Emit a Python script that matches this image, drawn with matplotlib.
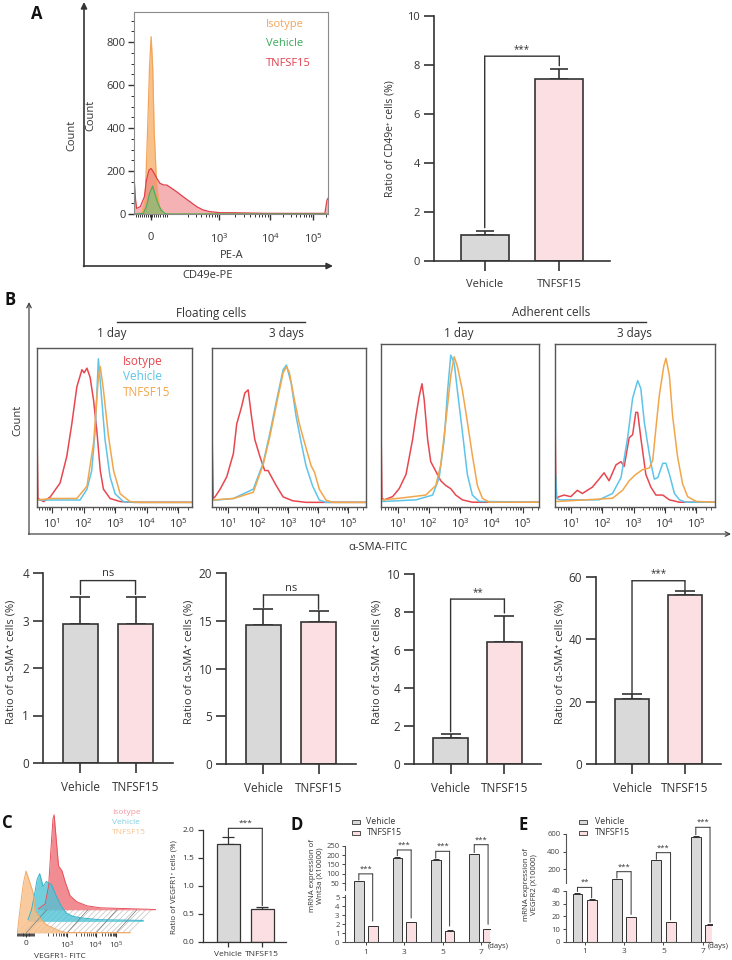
import matplotlib.pyplot as plt
import numpy as np
from matplotlib.patches import Polygon, Rectangle, ConnectionPatch

# ---------------- data ----------------
# panel A histogram (x in display units: 0 -> "0", 1.31 -> 10^3 ...)
a_iso_x = [-0.33, -0.18, -0.115, -0.07, -0.03, 0.0, 0.03, 0.06, 0.105, 0.16, 0.24, 0.30, 3.41]
a_iso_y = [0, 3, 65, 375, 685, 825, 685, 375, 143, 34, 6, 0, 0]
a_veh_x = [-0.33, -0.15, -0.09, -0.03, 0.03, 0.07, 0.13, 0.19, 0.26, 0.32, 3.41]
a_veh_y = [0, 3, 34, 96, 130, 96, 50, 19, 3, 0, 0]
a_tn_x = [-0.33, -0.30, -0.28, -0.21, -0.13, -0.09, -0.04, 0.0, 0.04, 0.11, 0.17, 0.24, 0.30, 0.40,
          0.49, 0.62, 0.75, 0.88, 1.0, 1.13, 1.33, 1.58, 2.22, 2.87, 3.35, 3.39, 3.41]
a_tn_y = [174, 65, 26, 34, 80, 158, 205, 212, 197, 166, 143, 135, 135, 119,
          104, 80, 57, 34, 19, 11, 6, 6, 3, 3, 3, 65, 73]

groups = ['Vehicle', 'TNFSF15']
a_mean = [1.06, 7.44]
a_err = [0.18, 0.40]

# panel B histograms (x = log10 intensity, y = % of max)
b1_iso_x = [0.53, 0.56, 0.74, 0.95, 1.26, 1.47, 1.63, 1.79, 1.95, 2.02, 2.11, 2.21, 2.32, 2.42, 2.53, 2.63, 2.84, 3.16, 3.6, 5.43]
b1_iso_y = [47, 3, 1, 4, 13, 30, 51, 75, 86, 84, 87, 81, 66, 47, 21, 9, 3, 1, 0.5, 0.5]
b1_veh_x = [0.53, 1.0, 1.89, 2.11, 2.26, 2.37, 2.47, 2.58, 2.68, 2.84, 3.0, 3.26, 3.6, 5.43]
b1_veh_y = [2, 2, 2, 9, 21, 47, 93, 66, 41, 17, 6, 1, 0.5, 0.5]
b1_tn_x = [0.53, 1.0, 1.79, 2.11, 2.32, 2.47, 2.53, 2.63, 2.79, 2.95, 3.16, 3.47, 3.8, 5.43]
b1_tn_y = [2, 3, 3, 11, 39, 81, 88, 73, 43, 21, 6, 1, 0.5, 0.5]

b2_iso_x = [0.48, 0.52, 0.58, 0.75, 0.97, 1.19, 1.30, 1.46, 1.57, 1.68, 1.79, 1.90, 2.07, 2.23, 2.34, 2.45, 2.62, 2.84, 3.16, 3.60, 5.59]
b2_iso_y = [47, 3, 4, 9, 17, 32, 51, 62, 71, 73, 56, 41, 30, 21, 21, 17, 11, 4, 1.5, 0.5, 0.5]
b2_veh_x = [0.48, 0.64, 1.19, 1.85, 2.18, 2.40, 2.62, 2.84, 2.95, 3.11, 3.27, 3.44, 3.60, 3.82, 4.04, 4.26, 5.59]
b2_veh_y = [2, 2, 3, 9, 26, 45, 66, 86, 89, 77, 56, 39, 24, 11, 2, 0.5, 0.5]
b2_tn_x = [0.48, 1.2, 1.85, 2.18, 2.40, 2.62, 2.84, 2.95, 3.05, 3.22, 3.38, 3.55, 3.77, 3.88, 4.04, 4.26, 4.48, 5.59]
b2_tn_y = [2, 3, 7, 25, 43, 64, 84, 88, 84, 66, 51, 39, 24, 20, 9, 2, 0.5, 0.5]

b3_iso_x = [0.47, 0.50, 0.57, 0.84, 1.05, 1.27, 1.48, 1.59, 1.69, 1.78, 1.85, 1.96, 2.06, 2.22, 2.38, 2.54, 2.70, 2.86, 3.07, 3.39, 5.52]
b3_iso_y = [51, 3, 2, 4, 9, 18, 40, 55, 67, 75, 65, 40, 26, 20, 14, 11, 9, 5, 2, 0.5, 0.5]
b3_veh_x = [0.47, 0.57, 1.59, 2.12, 2.33, 2.49, 2.60, 2.70, 2.81, 2.91, 3.07, 3.23, 3.39, 3.61, 5.52]
b3_veh_y = [1, 1, 2, 5, 16, 40, 71, 93, 88, 71, 45, 18, 5, 1, 0.5]
b3_tn_x = [0.47, 0.57, 1.05, 1.90, 2.22, 2.38, 2.54, 2.70, 2.81, 2.91, 3.07, 3.23, 3.39, 3.55, 3.71, 3.93, 5.52]
b3_tn_y = [2, 2, 3, 5, 11, 24, 51, 80, 92, 86, 71, 51, 30, 11, 3, 0.5, 0.5]

b4_iso_x = [0.50, 0.53, 0.63, 0.79, 1.0, 1.21, 1.37, 1.69, 1.90, 2.06, 2.22, 2.44, 2.60, 2.70, 2.86, 2.97,
            3.07, 3.13, 3.23, 3.39, 3.55, 3.71, 3.93, 4.14, 4.46, 5.59]
b4_iso_y = [62, 3, 4, 5, 4, 8, 6, 10, 15, 19, 14, 24, 26, 23, 41, 43, 57, 57, 41, 18, 10, 5, 5, 2, 0.5, 0.5]
b4_veh_x = [0.50, 0.52, 0.56, 0.63, 1.90, 2.33, 2.60, 2.81, 2.97, 3.13, 3.23, 3.34, 3.45, 3.55, 3.66, 3.77,
            3.93, 4.03, 4.14, 4.30, 4.46, 4.67, 5.59]
b4_veh_y = [2, 18, 3, 2, 2, 6, 16, 41, 66, 77, 72, 51, 37, 25, 15, 16, 25, 25, 18, 6, 2, 0.5, 0.5]
b4_tn_x = [0.50, 0.63, 2.33, 2.65, 2.86, 3.07, 3.29, 3.50, 3.61, 3.71, 3.82, 3.96, 4.03, 4.14, 4.24, 4.40,
           4.56, 4.72, 4.99, 5.59]
b4_tn_y = [1, 1, 3, 8, 14, 18, 21, 22, 27, 47, 68, 86, 91, 80, 55, 29, 12, 4, 1, 0.5]

b1_mean, b1_err = [2.92, 2.92], [0.58, 0.58]
b2_mean, b2_err = [14.6, 14.9], [1.6, 1.1]
b3_mean, b3_err = [1.38, 6.40], [0.22, 1.40]
b4_mean, b4_err = [21.0, 54.1], [1.3, 1.4]

# panel C waterfall histogram (local x units, height)
c_iso_x = [-0.29, -0.06, 0.06, 0.14, 0.21, 0.25, 0.32, 0.40, 0.52, 0.63, 0.80, 1.03, 1.38, 1.84, 3.74]
c_iso_y = [1, 6, 24, 61, 91, 95, 71, 44, 39, 28, 14, 8, 4, 2, 0.3]
c_veh_x = [-0.29, -0.17, -0.06, 0.02, 0.11, 0.23, 0.34, 0.52, 0.69, 0.86, 1.03, 1.26, 1.61, 2.18, 3.68]
c_veh_y = [1.7, 11.7, 28, 41.7, 47.7, 35, 40, 36.7, 25, 15, 8.3, 5, 3.3, 1.7, 1]
c_tn_x = [-0.30, -0.21, -0.09, 0.0, 0.14, 0.25, 0.31, 0.48, 0.71, 0.94, 1.17, 1.40, 3.59]
c_tn_y = [0, 23, 50, 62, 50, 40, 23, 15, 8, 5, 2, 0.5, 0.5]
c_mean, c_err = [1.745, 0.59], [0.125, 0.03]

# panels D / E
days = ['1', '3', '5', '7']
d_veh = [61, 186, 176, 205]
d_veh_err = [2, 3, 2, 3]
d_tn = [1.78, 2.2, 1.28, 1.45]
d_tn_err = [0.08, 0.07, 0.05, 0.05]
e_veh = [37.2, 90, 300, 565]
e_veh_err = [1.5, 3, 5, 15]
e_tn = [32.8, 19.3, 15.2, 13.3]
e_tn_err = [0.8, 0.5, 0.4, 0.4]

# ---------------- style ----------------
W, H = 732, 960
plt.rcParams['font.family'] = ['Open Sans', 'DejaVu Sans']
plt.rcParams['mathtext.fontset'] = 'custom'
plt.rcParams['mathtext.rm'] = 'Open Sans'
plt.rcParams['mathtext.default'] = 'regular'
plt.rcParams['text.color'] = '#333333'
plt.rcParams['xtick.color'] = '#333333'
plt.rcParams['ytick.color'] = '#333333'
plt.rcParams['hatch.linewidth'] = 0.5

GRAY, PINK, EDGE = '#d9d9d9', '#fcdfe2', '#333333'
RED, CYAN, ORANGE = '#e8474f', '#5ec4ea', '#f2a64a'

fig = plt.figure(figsize=(W / 100, H / 100), dpi=100)


def box(x0, y0, x1, y1):
    return fig.add_axes([x0 / W, 1 - y1 / H, (x1 - x0) / W, (y1 - y0) / H])


ov = fig.add_axes([0, 0, 1, 1], zorder=5)
ov.set_xlim(0, W)
ov.set_ylim(H, 0)
ov.axis('off')


def txt(x, y, s, size=8, **kw):
    ov.text(x, y, s, fontsize=size, ha=kw.pop('ha', 'center'), va=kw.pop('va', 'center'), **kw)


def bracket(xl, xr, yh, axh, yl, axl, yr, axr, label, fs, lw=1.0):
    pts = [(axl, (xl, yl)), (axh, (xl, yh)), (axh, (xr, yh)), (axr, (xr, yr))]
    for (a1, p1), (a2, p2) in zip(pts[:-1], pts[1:]):
        fig.add_artist(ConnectionPatch(p1, p2, coordsA=a1.transData, coordsB=a2.transData,
                                       color=EDGE, lw=lw))
    axh.annotate(label, ((xl + xr) / 2, yh), xytext=(0, 1), textcoords='offset points',
                 ha='center', va='bottom', fontsize=fs, color=EDGE, annotation_clip=False)


def two_bar(rect, means, errs, ylim, yticks, fs, lw, tlen, cap, xlim=(-0.68, 1.68), width=0.64):
    ax = box(*rect)
    pos = np.arange(len(groups))
    ax.bar(pos, means, width, color=[GRAY, PINK], edgecolor=EDGE, linewidth=lw, zorder=2)
    ax.errorbar(pos, means, yerr=[np.zeros(len(pos)), errs], fmt='none', ecolor=EDGE,
                elinewidth=lw, capsize=cap, capthick=lw, zorder=1)
    ax.set_xlim(*xlim)
    ax.set_ylim(*ylim)
    ax.set_yticks(yticks)
    ax.set_xticks(pos, groups)
    for s in ['top', 'right']:
        ax.spines[s].set_visible(False)
    for s in ['left', 'bottom']:
        ax.spines[s].set_linewidth(lw)
        ax.spines[s].set_color(EDGE)
    ax.tick_params(direction='out', length=tlen, width=lw, labelsize=fs, pad=3)
    ax.tick_params(axis='x', pad=tlen * 0.9)
    return ax


# ---------------- panel A ----------------
axA = box(134, 12, 328, 214)
for xs, ys, fc, ec, al in [(a_iso_x, a_iso_y, '#f9bb7d', '#f3a55a', 0.9),
                           (a_tn_x, a_tn_y, '#ee7f84', '#e0404c', 0.6),
                           (a_veh_x, a_veh_y, '#86bf72', '#4fae5c', 0.75)]:
    axA.fill_between(xs, ys, color=fc, alpha=al, lw=0)
    axA.plot(xs, ys, color=ec, lw=0.9)
axA.set_xlim(-0.33, 3.41)
axA.set_ylim(0, 940)
axA.set_yticks([0, 200, 400, 600, 800])
axA.set_yticks(np.arange(0, 940, 50), minor=True)
axA.set_xticks([0, 1.31, 2.30, 3.12], ['0', r'$10^3$', r'$10^4$', r'$10^5$'])
a_minor = list(np.arange(-0.30, 0.31, 0.04))
for lo, hi in [(0.45, 1.31), (1.31, 2.30), (2.30, 3.12), (3.12, 3.94)]:
    a_minor += [lo + np.log10(k) * (hi - lo) for k in range(2, 10)]
axA.set_xticks([m for m in a_minor if m < 3.4], minor=True)
for s in axA.spines.values():
    s.set_color('#8a8a8a')
axA.tick_params(axis='y', which='major', length=4, width=1, labelsize=8, pad=2)
axA.tick_params(axis='y', which='minor', length=2, width=0.7)
axA.tick_params(axis='x', which='major', length=4, width=1, labelsize=8, pad=9)
axA.tick_params(axis='x', which='minor', length=2.5, width=0.7)
txt(266, 24, 'Isotype', 8, ha='left', color='#f5a55a')
txt(266, 44, 'Vehicle', 8, ha='left', color='#3aaa5a')
txt(266, 64, 'TNFSF15', 8, ha='left', color='#e0404c')
txt(232, 256, 'PE-A', 8)
txt(91, 115, 'Count', 8, rotation=90)
txt(72, 135, 'Count', 8, rotation=90)
txt(208, 276, 'CD49e-PE', 8)
ov.annotate('', xy=(84, 2), xytext=(84, 266.5),
            arrowprops=dict(arrowstyle='-|>', color=EDGE, lw=1.2, mutation_scale=9, shrinkA=0, shrinkB=0))
ov.annotate('', xy=(333, 266), xytext=(83.5, 266),
            arrowprops=dict(arrowstyle='-|>', color=EDGE, lw=1.2, mutation_scale=9, shrinkA=0, shrinkB=0))

axAb = two_bar((434, 16, 610, 261), a_mean, a_err, (0, 10), [0, 2, 4, 6, 8, 10], 8, 1.2, 7, 6.5)
bracket(0, 1, 8.36, axAb, 1.36, axAb, 7.97, axAb, '***', 7)
txt(390, 139, 'Ratio of CD49e⁺ cells (%)', 7.5, rotation=90)

# ---------------- panel B ----------------
def flow_box(rect, curves, xlim):
    ax = box(*rect)
    for (xs, ys), col in zip(curves, [RED, CYAN, ORANGE]):
        ax.plot(xs, ys, color=col, lw=1.1)
    ax.set_xlim(*xlim)
    ax.set_ylim(-2.5, 100)
    ax.set_yticks([])
    ax.set_xticks([1, 2, 3, 4, 5], [r'$10^{%d}$' % k for k in range(1, 6)])
    ax.set_xticks([d + np.log10(k) for d in range(0, 6) for k in range(2, 10)
                   if xlim[0] < d + np.log10(k) < xlim[1]], minor=True)
    for s in ax.spines.values():
        s.set_color('#555555')
        s.set_linewidth(1.0)
    ax.tick_params(axis='x', which='major', length=4, width=0.8, labelsize=8, pad=3)
    ax.tick_params(axis='x', which='minor', length=2, width=0.6)
    return ax


flow_box((37, 348, 192, 507), [(b1_iso_x, b1_iso_y), (b1_veh_x, b1_veh_y), (b1_tn_x, b1_tn_y)], (0.53, 5.43))
flow_box((212, 348, 366, 507), [(b2_iso_x, b2_iso_y), (b2_veh_x, b2_veh_y), (b2_tn_x, b2_tn_y)], (0.48, 5.59))
flow_box((381, 344, 539, 507), [(b3_iso_x, b3_iso_y), (b3_veh_x, b3_veh_y), (b3_tn_x, b3_tn_y)], (0.47, 5.52))
flow_box((555, 344, 715, 507), [(b4_iso_x, b4_iso_y), (b4_veh_x, b4_veh_y), (b4_tn_x, b4_tn_y)], (0.50, 5.59))

txt(123, 361, 'Isotype', 8.5, ha='left', color=RED)
txt(123, 376, 'Vehicle', 8.5, ha='left', color=CYAN)
txt(123, 392, 'TNFSF15', 8.5, ha='left', color=ORANGE)
txt(211, 313, 'Floating cells', 8.5)
txt(551, 313, 'Adherent cells', 8.5)
ov.plot([117, 305], [322, 322], color=EDGE, lw=1)
ov.plot([458, 646], [322, 322], color=EDGE, lw=1)
for x, s in [(112, '1 day'), (286, '3 days'), (459, '1 day'), (634, '3 days')]:
    txt(x, 333, s, 8.5)
txt(18, 420, 'Count', 8, rotation=90)
txt(378, 548, 'α-SMA-FITC', 8)
ov.annotate('', xy=(29, 302), xytext=(29, 534.5),
            arrowprops=dict(arrowstyle='->', color='#444', lw=0.9, mutation_scale=8, shrinkA=0, shrinkB=0))
ov.annotate('', xy=(731, 534), xytext=(28.5, 534),
            arrowprops=dict(arrowstyle='->', color='#444', lw=0.9, mutation_scale=8, shrinkA=0, shrinkB=0))

axB1 = two_bar((43, 573, 173, 763), b1_mean, b1_err, (0, 4), [0, 1, 2, 3, 4], 8.5, 1.2, 7, 7)
bracket(0, 1, 3.84, axB1, 3.55, axB1, 3.55, axB1, 'ns', 8)
axB2 = two_bar((226, 573, 356, 764), b2_mean, b2_err, (0, 20), [0, 5, 10, 15, 20], 8.5, 1.2, 7, 7)
bracket(0, 1, 17.7, axB2, 16.4, axB2, 16.2, axB2, 'ns', 8)
axB3 = two_bar((414, 574, 541, 764), b3_mean, b3_err, (0, 10), [0, 2, 4, 6, 8, 10], 8.5, 1.2, 7, 7)
bracket(0, 1, 8.68, axB3, 1.7, axB3, 7.95, axB3, '**', 7)
axB4 = two_bar((596, 577, 721, 764), b4_mean, b4_err, (0, 60), [0, 20, 40, 60], 8.5, 1.2, 7, 7)
bracket(0, 1, 58.8, axB4, 22.6, axB4, 55.8, axB4, '***', 7)
for x in [11, 189, 377, 560]:
    txt(x, 662, 'Ratio of α-SMA⁺ cells (%)', 8, rotation=90)

# ---------------- panel C ----------------
axC = box(15, 812, 160, 933)
DX, DY = 0.36, 11.6
base_x = [(c_tn_x[0], c_tn_x[-1]), (c_veh_x[0], c_veh_x[-1]), (c_iso_x[0], c_iso_x[-1])]
for k in range(2):
    (l0, r0), (l1, r1) = base_x[k], base_x[k + 1]
    poly = [(l0 + k * DX, k * DY), (r0 + k * DX, k * DY),
            (r1 + (k + 1) * DX, (k + 1) * DY), (l1 + (k + 1) * DX, (k + 1) * DY)]
    axC.add_patch(Polygon(poly, closed=True, facecolor='none', edgecolor='#c4c4c4', hatch='//////', lw=0))
for t in [0, 1.41, 2.41, 3.1]:
    axC.plot([t, t + 2 * DX], [0, 2 * DY], color='#777777', lw=0.5)
for xs, ys, k, fc, ec in [(c_iso_x, c_iso_y, 2, '#ef6f78', '#e8505c'),
                          (c_veh_x, c_veh_y, 1, '#4fc3d6', '#35b2c8'),
                          (c_tn_x, c_tn_y, 0, '#f7bd86', '#f2a866')]:
    gx = np.array(xs) + k * DX
    gy = np.array(ys) + k * DY
    axC.fill_between(gx, k * DY, gy, color=fc, alpha=0.8, lw=0)
    axC.plot(gx, gy, color=ec, lw=0.7)
axC.set_xlim(-0.38, 4.62)
axC.set_ylim(0, 121)
for s in axC.spines.values():
    s.set_visible(False)
axC.set_yticks([])
axC.set_xticks([0, 1.41, 2.41, 3.1], ['0', r'$10^3$', r'$10^4$', r'$10^5$'])
c_minor = list(np.arange(-0.3, 0.3, 0.03))
for lo, hi in [(0.5, 1.41), (1.41, 2.41), (2.41, 3.1)]:
    c_minor += [lo + np.log10(k) * (hi - lo) for k in range(2, 10)]
axC.set_xticks(c_minor, minor=True)
axC.tick_params(axis='x', which='major', length=3, width=0.8, labelsize=6, pad=2)
axC.tick_params(axis='x', which='minor', length=2, width=0.6)
txt(112, 812, 'Isotype', 6, ha='left', color='#f29aa2')
txt(112, 822, 'Vehicle', 6, ha='left', color='#7fcfe6')
txt(112, 832, 'TNFSF15', 6, ha='left', color='#f7c28e')
txt(60, 956, 'VEGFR1- FITC', 6)

axCb = two_bar((203, 830, 286, 942), c_mean, c_err, (0, 2.0), [0, 0.5, 1.0, 1.5, 2.0], 6, 0.9, 3.5, 4,
               xlim=(-0.75, 1.7), width=0.68)
axCb.set_yticks(axCb.get_yticks(), ['0.0', '0.5', '1.0', '1.5', '2.0'])
bracket(0, 1, 2.03, axCb, 1.88, axCb, 0.65, axCb, '***', 6, lw=0.8)
txt(174, 887, 'Ratio of VEGFR1⁺ cells (%)', 5.8, rotation=90)


# ---------------- panels D / E ----------------
def broken(x0, x1, yt, ys, yb, top_ylim, bot_ylim, top_bounds, bot_bounds, top_ticks, bot_ticks,
           veh, veh_err, tn, tn_err, xlim):
    axT = box(x0, yt, x1, ys)
    axB = box(x0, ys, x1, yb)
    pos = np.arange(len(days))
    off, w = 0.18, 0.25
    veh = np.array(veh)
    axB.bar(pos - off, veh, w, color=GRAY, edgecolor=EDGE, linewidth=0.7, zorder=2)
    axB.bar(pos + off, tn, w, color=PINK, edgecolor=EDGE, linewidth=0.7, zorder=2)
    axB.errorbar(pos + off, tn, yerr=[np.zeros(4), tn_err], fmt='none', ecolor=EDGE,
                 elinewidth=0.7, capsize=2.5, capthick=0.7)
    axB.errorbar(pos - off, veh, yerr=[np.zeros(4), veh_err], fmt='none', ecolor=EDGE,
                 elinewidth=0.7, capsize=2.5, capthick=0.7)
    m = veh > bot_ylim[1]
    base = top_ylim[0] - 100
    axT.bar(pos[m] - off, veh[m] - base, w, bottom=base, color=GRAY, edgecolor=EDGE, linewidth=0.7)
    axT.errorbar(pos[m] - off, veh[m], yerr=[np.zeros(m.sum()), np.array(veh_err)[m]], fmt='none',
                 ecolor=EDGE, elinewidth=0.7, capsize=2.5, capthick=0.7)
    for ax, lim, bnd, tk in [(axT, top_ylim, top_bounds, top_ticks), (axB, bot_ylim, bot_bounds, bot_ticks)]:
        ax.set_xlim(*xlim)
        ax.set_ylim(*lim)
        ax.set_yticks(tk)
        ax.patch.set_alpha(0)
        for s in ['top', 'right']:
            ax.spines[s].set_visible(False)
        for s in ['left', 'bottom']:
            ax.spines[s].set_color('#555555')
            ax.spines[s].set_linewidth(0.8)
        ax.spines['left'].set_bounds(*bnd)
        ax.tick_params(direction='out', length=2.5, width=0.7, labelsize=5.5, pad=1.5, colors='#444444')
    axT.spines['bottom'].set_visible(False)
    axT.tick_params(axis='x', bottom=False, labelbottom=False)
    axB.set_xticks(pos, days)
    axB.tick_params(axis='x', labelsize=6, pad=2)
    return axT, axB


dxlim = (-0.54, 3.23)
dT, dB = broken(345, 490, 840, 890, 942.3, (14.4, 280), (0, 5.81), (14.4, 250), (0, 5.26),
                [50, 100, 150, 200, 250], [0, 1, 2, 3, 4, 5], d_veh, d_veh_err, d_tn, d_tn_err, dxlim)
for i, (yh, yl, yr) in enumerate([(100, 67, 2.35), (227, 196, 2.7), (220, 183, 1.8), (255, 213, 2.0)]):
    bracket(i - 0.18, i + 0.18, yh, dT, yl, dT, yr, dB, '***', 5.5, lw=0.7)

eT, eB = broken(566, 712, 818, 887, 941.7, (0, 780), (0, 43.1), (49, 600), (0, 40),
                [200, 400, 600], [0, 10, 20, 30, 40], e_veh, e_veh_err, e_tn, e_tn_err, (-0.47, 3.23))
bracket(-0.18, 0.18, 42.8, eB, 39.5, eB, 34.5, eB, '**', 5.5, lw=0.7)
for i, (yh, yl, yr) in zip([1, 2, 3], [(173, 100, 21.5), (388, 312, 17.2), (675, 590, 15.2)]):
    bracket(i - 0.18, i + 0.18, yh, eT, yl, eT, yr, eB, '***', 5.5, lw=0.7)

for lx, tx in [(352, 366.5), (579, 595)]:
    ov.add_patch(Rectangle((lx, 820), 8, 3.5, facecolor=GRAY, edgecolor=EDGE, lw=0.6))
    ov.add_patch(Rectangle((lx, 831), 8, 3.5, facecolor=PINK, edgecolor=EDGE, lw=0.6))
    txt(tx, 821.7, 'Vehicle', 6.3, ha='left')
    txt(tx, 832.7, 'TNFSF15', 6.3, ha='left')
txt(316, 876, 'mRNA expression of\nWnt3a (X10000)', 5.6, rotation=90, linespacing=1.1)
txt(530, 885, 'mRNA expression of\nVEGFR2 (X10000)', 5.6, rotation=90, linespacing=1.1)
txt(488, 946, '(days)', 5.5, ha='left')
txt(708, 946.5, '(days)', 5.5, ha='left')

# panel letters
for x, y, s in [(37, 14, 'A'), (10, 300, 'B'), (7, 823, 'C'), (297, 825, 'D'), (523, 825, 'E')]:
    txt(x, y, s, 12, fontweight='bold', color='#111111')

fig.savefig('out.png', dpi=100)
